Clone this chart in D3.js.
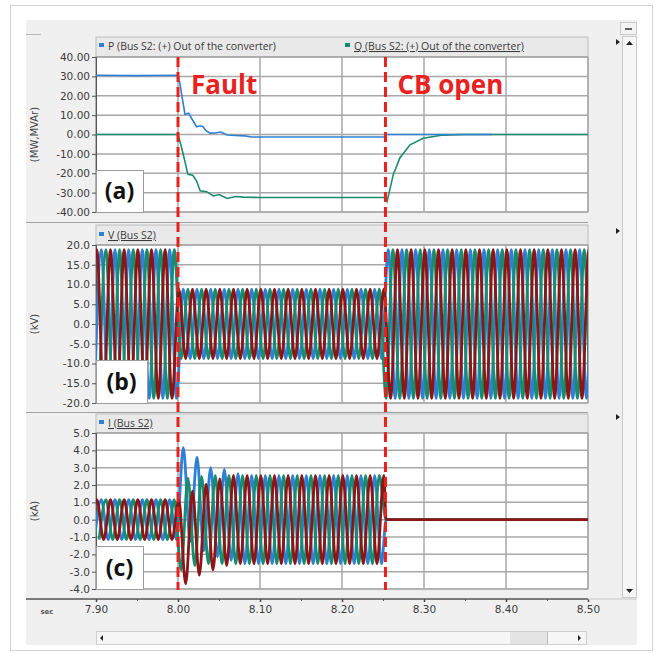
<!DOCTYPE html>
<html>
<head>
<meta charset="utf-8">
<script src="https://cdn.jsdelivr.net/npm/d3@7"></script>
<style>
  body { margin: 0; background: #fff; }
  text { font-family: "DejaVu Sans", sans-serif; }
</style>
</head>
<body>
<svg id="chart" width="661" height="654"></svg>
<script>
// ---- data ----
var timeTicks = [7.90, 8.00, 8.10, 8.20, 8.30, 8.40, 8.50];
var minorTicks = [7.95, 8.05, 8.15, 8.25, 8.35, 8.45];
var faultTime = 8.00,
    cbOpenTime = 8.253;

var pqTicks = [40, 30, 20, 10, 0, -10, -20, -30, -40];
var vTicks = [20, 15, 10, 5, 0, -5, -10, -15, -20];
var iTicks = [5, 4, 3, 2, 1, 0, -1, -2, -3, -4];

// P and Q (MW, MVAr)
var pTime = [7.90, 7.95, 8.00, 8.002, 8.0045, 8.0085, 8.013, 8.017, 8.0227, 8.027, 8.0305, 8.034, 8.039, 8.045, 8.052, 8.06, 8.07, 8.081, 8.09, 8.253, 8.2535, 8.383];
var pValue = [30.6, 30.4, 30.6, 27, 20.6, 10.5, 11, 8, 4, 4.5, 4, 2, 0.7, 0.8, 1.3, -0.3, -0.5, -0.7, -1.3, -1.3, 0, 0];
var qTime = [7.90, 8.00, 8.002, 8.0045, 8.0085, 8.012, 8.018, 8.0227, 8.027, 8.035, 8.043, 8.05, 8.06, 8.07, 8.08, 8.10, 8.253, 8.255, 8.2626, 8.2707, 8.283, 8.299, 8.323, 8.35, 8.50];
var qValue = [0, 0, -3, -7, -14, -20.6, -21, -24, -29, -29.5, -31.7, -31, -33, -32, -32.3, -32.5, -32.5, -34.5, -20.6, -12, -5.3, -1.9, -0.3, 0, 0];

// three phases: blue, green, red (drawn in that order)
var phaseColors = ["#2f80d4", "#1a8c6e", "#8c1616"];
var phaseFirstPeak = [7.9065, 7.9121, 7.9010];   // time of first positive peak (s)
var halfCycle = 1 / 120;                         // 60 Hz

// peak values per segment: before fault, during fault, after CB open
var vAmplitude = [18.8, 8.8, 18.8];
var iAmplitude = [1.15, 2.55, 0];
// offset of each current half-cycle peak after the fault (kA)
var iFaultOffset = [
  [1.6, 1.3, 1.05, 0.75, 0.45, 0.4, 0.35, 0.2, 0.1],
  [-0.35, -0.15, -0.1, -0.05],
  [-1.4, -1.15, -0.9, -0.65, -0.5, -0.35, -0.2, -0.1]
];

// ---- layout ----
var svg = d3.select("#chart");
var x = d3.scaleLinear().domain([7.90, 8.50]).range([96, 588]);

var panels = [
  {id: "a", top: 37, y0: 57, y1: 212, domain: [-40, 40], ticks: pqTicks, fmt: 2, unit: "(MW,MVAr)", box: [96, 170, 47, 42]},
  {id: "b", top: 225, y0: 245, y1: 403, domain: [-20, 20], ticks: vTicks, fmt: 1, unit: "(kV)", box: [96, 360, 51, 43]},
  {id: "c", top: 414, y0: 433, y1: 589, domain: [-4, 5], ticks: iTicks, fmt: 1, unit: "(kA)", box: [96, 546, 47, 43]}
];

// outer frame and grey window
svg.append("rect").attr("x", 10.5).attr("y", 5.5).attr("width", 642).attr("height", 645)
  .attr("fill", "#fff").attr("stroke", "#d4d4d4");
svg.append("rect").attr("x", 26).attr("y", 20).attr("width", 611).attr("height", 625)
  .attr("fill", "#f0f0f0");
svg.append("line").attr("x1", 26).attr("x2", 41).attr("y1", 34.5).attr("y2", 34.5).attr("stroke", "#b8b8b8");
[222.5, 412.5].forEach(function(yy) {
  svg.append("line").attr("x1", 26).attr("x2", 588).attr("y1", yy).attr("y2", yy)
    .attr("stroke", "#a0a0a0").attr("stroke-width", 1.2);
});

function waveExtrema(firstPeak, amp, offsets, stopAt) {
  var pts = [], j = 0;
  for (var k = -1; ; k++) {
    var t = firstPeak + k * halfCycle;
    if (t > stopAt) break;
    var seg = t < faultTime ? 0 : (t < cbOpenTime ? 1 : 2);
    var sign = k % 2 === 0 ? 1 : -1;
    var dc = 0;
    if (seg === 1 && offsets) { dc = offsets[j] || 0; j++; }
    pts.push([t, sign * amp[seg] + dc]);
  }
  return pts;
}

panels.forEach(function(p) {
  var y = d3.scaleLinear().domain(p.domain).range([p.y1, p.y0]);
  p.y = y;
  var g = svg.append("g");

  // legend strip
  g.append("rect").attr("x", 96).attr("y", p.top).attr("width", 492).attr("height", p.y0 - p.top)
    .attr("fill", "#e9e9e9").attr("stroke", "#bdbdbd");

  // plot area
  g.append("rect").attr("x", 96).attr("y", p.y0).attr("width", 492).attr("height", p.y1 - p.y0)
    .attr("fill", "#fff").attr("stroke", "#9a9a9a");

  g.selectAll(".hg").data(p.ticks).enter().append("line")
    .attr("x1", 96).attr("x2", 588)
    .attr("y1", function(d) { return y(d); }).attr("y2", function(d) { return y(d); })
    .attr("stroke", "#a8a8a8").attr("stroke-width", 1.5);
  g.selectAll(".vg").data(timeTicks).enter().append("line")
    .attr("x1", function(d) { return x(d); }).attr("x2", function(d) { return x(d); })
    .attr("y1", p.y0).attr("y2", p.y1)
    .attr("stroke", "#a8a8a8").attr("stroke-width", 1.5);

  // y axis
  var ax = g.append("g").attr("transform", "translate(96,0)")
    .call(d3.axisLeft(y).tickValues(p.ticks).tickSize(4).tickPadding(2)
      .tickFormat(function(d) { return d.toFixed(p.fmt); }));
  ax.select(".domain").attr("stroke", "#555");
  ax.selectAll("line").attr("stroke", "#555");
  ax.selectAll("text").attr("fill", "#3c3c3c").style("font-size", "10.5px")
    .style("font-family", "'DejaVu Sans', sans-serif");

  g.append("text").attr("transform", "translate(38," + ((p.y0 + p.y1) / 2) + ") rotate(-90)")
    .attr("text-anchor", "middle").attr("fill", "#444").style("font-size", "10px")
    .text(p.unit);

  g.append("clipPath").attr("id", "clip-" + p.id).append("rect")
    .attr("x", 96).attr("y", p.y0).attr("width", 492).attr("height", p.y1 - p.y0);
  p.plot = g.append("g").attr("clip-path", "url(#clip-" + p.id + ")");
});

// ---- panel (a): P and Q ----
var pa = panels[0];
var lineA = d3.line().x(function(d) { return x(d[0]); }).y(function(d) { return pa.y(d[1]); });
pa.plot.append("path").datum(d3.zip(qTime, qValue))
  .attr("d", lineA).attr("fill", "none").attr("stroke", phaseColors[1]).attr("stroke-width", 1.6);
pa.plot.append("path").datum(d3.zip(pTime, pValue))
  .attr("d", lineA).attr("fill", "none").attr("stroke", phaseColors[0]).attr("stroke-width", 1.6);

// ---- panel (b): three-phase voltage ----
var pb = panels[1];
var lineB = d3.line().curve(d3.curveMonotoneX)
  .x(function(d) { return x(d[0]); }).y(function(d) { return pb.y(d[1]); });
phaseColors.forEach(function(c, i) {
  pb.plot.append("path").datum(waveExtrema(phaseFirstPeak[i], vAmplitude, null, 8.52))
    .attr("d", lineB).attr("fill", "none").attr("stroke", c).attr("stroke-width", 2.8);
});

// ---- panel (c): three-phase current ----
var pc = panels[2];
var lineC = d3.line().curve(d3.curveMonotoneX)
  .x(function(d) { return x(d[0]); }).y(function(d) { return pc.y(d[1]); });
phaseColors.forEach(function(c, i) {
  var pts = waveExtrema(phaseFirstPeak[i], iAmplitude, iFaultOffset[i], cbOpenTime);
  pts.push([cbOpenTime + 0.0008, 0], [8.50, 0]);
  pc.plot.append("path").datum(pts)
    .attr("d", lineC).attr("fill", "none").attr("stroke", c).attr("stroke-width", 2.8);
});

// ---- legends ----
var legends = [
  {x: 99, y: 46, text: "P (Bus S2: (+) Out of the converter)", color: phaseColors[0], under: false},
  {x: 345, y: 46, text: "Q (Bus S2: (+) Out of the converter)", color: phaseColors[1], under: true},
  {x: 99, y: 235, text: "V (Bus S2)", color: phaseColors[0], under: true},
  {x: 99, y: 423, text: "I (Bus S2)", color: phaseColors[0], under: true}
];
legends.forEach(function(l) {
  svg.append("rect").attr("x", l.x).attr("y", l.y - 3).attr("width", 5).attr("height", 4).attr("fill", l.color);
  svg.append("text").attr("x", l.x + 9).attr("y", l.y + 4).attr("fill", "#3a3a3a")
    .style("font-size", "10.5px").style("font-family", "'Open Sans', sans-serif")
    .style("text-decoration", l.under ? "underline" : "none").text(l.text);
});

// panel labels
panels.forEach(function(p) {
  var b = p.box;
  svg.append("rect").attr("x", b[0] + 0.5).attr("y", b[1] + 0.5).attr("width", b[2]).attr("height", b[3])
    .attr("fill", "#fff").attr("stroke", "#9c9c9c");
  svg.append("text").attr("x", b[0] + b[2] / 2).attr("y", b[1] + b[3] / 2 + 8)
    .attr("text-anchor", "middle").attr("fill", "#111")
    .style("font-size", "23px").style("font-weight", "bold").style("font-family", "'Open Sans', sans-serif")
    .text("(" + p.id + ")");
});

// ---- x axis ----
var xa = svg.append("g").attr("transform", "translate(0,599)")
  .call(d3.axisBottom(x).tickValues(timeTicks).tickSize(3).tickPadding(4)
    .tickFormat(function(d) { return d.toFixed(2); }));
xa.select(".domain").remove();
xa.selectAll("line").attr("stroke", "#444").attr("stroke-width", 1.5);
xa.selectAll("text").attr("fill", "#3c3c3c").style("font-size", "10.5px")
  .style("font-family", "'DejaVu Sans', sans-serif");
svg.append("g").attr("transform", "translate(0,599)")
  .call(d3.axisBottom(x).tickValues(minorTicks).tickSize(2).tickFormat(""))
  .call(function(s) { s.select(".domain").remove(); s.selectAll("line").attr("stroke", "#555"); });
svg.append("line").attr("x1", 26).attr("x2", 588).attr("y1", 599).attr("y2", 599)
  .attr("stroke", "#555").attr("stroke-width", 1.5);
svg.append("line").attr("x1", 588).attr("x2", 637).attr("y1", 599).attr("y2", 599)
  .attr("stroke", "#c8c8c8");
svg.append("text").attr("x", 47).attr("y", 614).attr("text-anchor", "middle")
  .attr("fill", "#555").style("font-size", "7px").style("font-weight", "bold").text("sec");

// ---- event markers ----
[faultTime, cbOpenTime].forEach(function(t) {
  svg.append("line").attr("x1", x(t)).attr("x2", x(t)).attr("y1", 57).attr("y2", 590)
    .attr("stroke", "#e8211d").attr("stroke-width", 3).attr("stroke-dasharray", "10,5");
});
var markerText = [{t: faultTime, label: "Fault", dx: 13}, {t: cbOpenTime, label: "CB open", dx: 12}];
markerText.forEach(function(m) {
  svg.append("text").attr("x", x(m.t) + m.dx).attr("y", 94).attr("fill", "#e8231f")
    .style("font-size", "26px").style("font-weight", "bold").style("font-family", "'Open Sans', sans-serif")
    .text(m.label);
});

// ---- window chrome: scroll bars ----
svg.append("rect").attr("x", 622.5).attr("y", 36.5).attr("width", 14).attr("height", 561)
  .attr("fill", "#f7f7f7").attr("stroke", "#c9c9c9");
svg.append("rect").attr("x", 620.5).attr("y", 22.5).attr("width", 16).attr("height", 12)
  .attr("fill", "#f3f3f3").attr("stroke", "#c9c9c9");
svg.append("line").attr("x1", 625).attr("x2", 632).attr("y1", 29).attr("y2", 29).attr("stroke", "#333").attr("stroke-width", 1.5);
svg.append("path").attr("d", "M626,45 L629.5,41 L633,45 Z").attr("fill", "#222");
svg.append("path").attr("d", "M626,589 L629.5,593 L633,589 Z").attr("fill", "#222");
[42, 231, 417].forEach(function(yy) {
  svg.append("path").attr("d", "M616," + (yy - 3) + " L620," + yy + " L616," + (yy + 3) + " Z").attr("fill", "#222");
});
svg.append("rect").attr("x", 96.5).attr("y", 631.5).attr("width", 490).attr("height", 13)
  .attr("fill", "#f6f6f6").attr("stroke", "#d0d0d0");
svg.append("rect").attr("x", 510).attr("y", 632).attr("width", 37).attr("height", 12).attr("fill", "#e4e4e4");
svg.append("line").attr("x1", 547.5).attr("x2", 547.5).attr("y1", 632).attr("y2", 644).attr("stroke", "#bbb");
svg.append("path").attr("d", "M103,635 L100,638 L103,641 Z").attr("fill", "#222");
svg.append("path").attr("d", "M578,635 L581,638 L578,641 Z").attr("fill", "#222");
</script>
</body>
</html>
